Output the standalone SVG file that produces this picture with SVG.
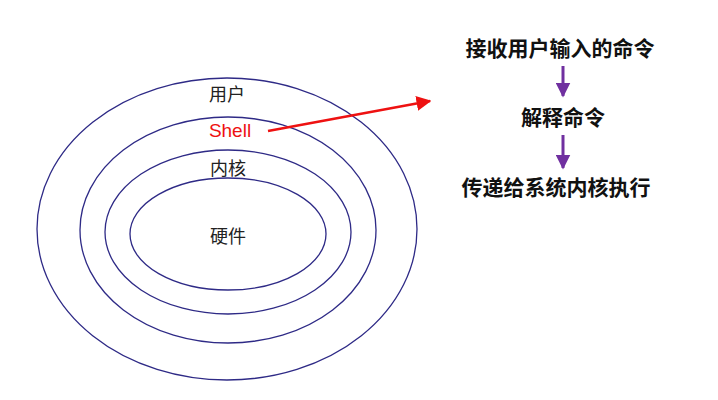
<svg xmlns="http://www.w3.org/2000/svg" width="718" height="400" viewBox="0 0 718 400">
<style>
.ring{fill:none;stroke:#2e2a86;stroke-width:1.3}
.lbl{font-family:"Noto Sans CJK SC","Liberation Sans",sans-serif;font-size:18px;fill:#222;text-anchor:middle}
.step{font-family:"Noto Sans CJK SC",sans-serif;font-size:21px;font-weight:bold;fill:#111;text-anchor:middle}
</style>
<defs>
<marker id="ar" viewBox="0 0 10 10" refX="9" refY="5" markerWidth="6" markerHeight="6" orient="auto"><path d="M0,0L10,5L0,10z" fill="#ee1111"/></marker>
<marker id="ap" viewBox="0 0 10 10" refX="9" refY="5" markerWidth="5" markerHeight="5" orient="auto"><path d="M0,0L10,5L0,10z" fill="#7030a0"/></marker>
</defs>
<rect width="718" height="400" fill="#fff"/>
<g id="user"><ellipse class="ring" cx="227" cy="229" rx="190" ry="151"/><text class="lbl" x="227" y="101">用户</text></g>
<g id="shell"><ellipse class="ring" cx="228" cy="230" rx="148" ry="113"/><text x="230" y="137" font-family="Liberation Sans,sans-serif" font-size="19" fill="#ee1111" text-anchor="middle">Shell</text></g>
<g id="kernel"><ellipse class="ring" cx="228" cy="232" rx="123" ry="82"/><text class="lbl" x="228" y="175">内核</text></g>
<g id="hw"><ellipse class="ring" cx="228" cy="234" rx="98" ry="56"/><text class="lbl" x="228" y="243">硬件</text></g>
<g id="s1"><text class="step" x="560" y="56">接收用户输入的命令</text></g>
<g id="s2"><text class="step" x="563" y="125">解释命令</text></g>
<g id="s3"><text class="step" x="556" y="195">传递给系统内核执行</text></g>
<g id="connectors">
<line x1="268" y1="131" x2="430" y2="101" stroke="#ee1111" stroke-width="2.5" marker-end="url(#ar)"/>
<line x1="563" y1="66" x2="563" y2="96" stroke="#7030a0" stroke-width="3" marker-end="url(#ap)"/>
<line x1="563" y1="135" x2="563" y2="168" stroke="#7030a0" stroke-width="3" marker-end="url(#ap)"/>
</g>
</svg>
